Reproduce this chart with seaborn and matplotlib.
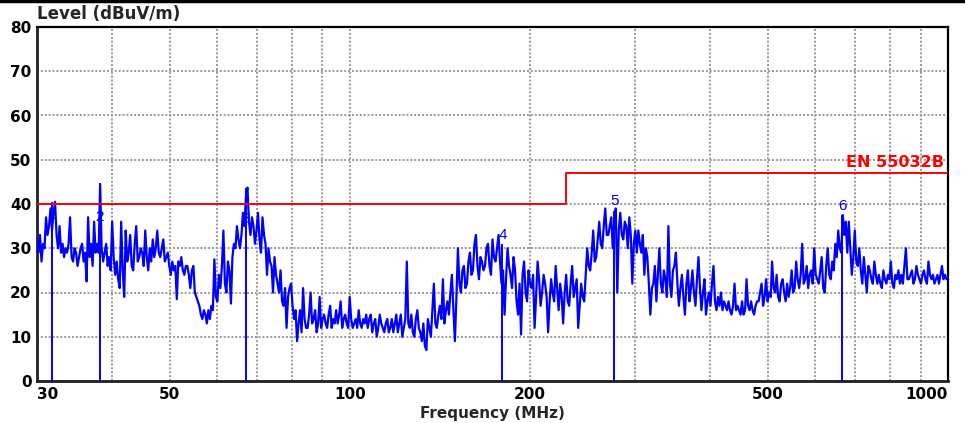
import numpy as np
import pandas as pd
import matplotlib
matplotlib.use("Agg")
import matplotlib.pyplot as plt
import seaborn as sns
from matplotlib.lines import Line2D

# ---------------- data ----------------
trace_levels = [
    32, 29, 33, 27, 31, 30, 37, 33, 35, 39, 34, 38, 40.5, 33, 30, 35, 29, 31, 28, 30,
    29, 31, 37, 28, 27, 30, 29, 26, 28, 30, 31, 27, 29, 22.5, 37, 28, 31, 26, 36, 29,
    31, 29, 44.5, 30, 27, 29, 31, 26, 28, 25, 36, 28, 24, 27, 23, 21, 36, 25, 19, 34,
    27, 29, 33, 26, 25, 31, 35, 27, 28, 30, 29, 26, 34, 28, 25, 30, 27, 32, 28, 30,
    34, 29, 28, 30, 32, 27, 28, 29, 26, 24, 27, 25, 26, 18.5, 27, 26, 28, 25, 24, 26,
    26, 24, 21, 25, 26, 20, 19, 18, 17, 15, 14, 16, 15, 13, 16, 14, 17, 16, 27.5, 19,
    18, 24, 21, 26, 34, 22, 20, 27, 25, 17.5, 28, 31, 30, 35, 32, 30, 33, 38, 35, 42,
    43.7, 36, 33, 37, 35, 31, 34, 38, 32, 29, 37, 33, 31, 24, 30, 27, 26, 20, 28, 24,
    22, 20, 25, 18, 17, 21, 12, 19, 21, 22, 17, 14, 16, 9, 13, 16, 11, 21, 14, 12,
    12, 15, 20, 13, 14, 16, 11, 13, 19, 12, 14, 15, 13, 12, 15, 17, 12, 14, 13, 16,
    13, 15, 18, 12, 14, 15, 13, 12, 19, 14, 12, 13, 14, 12, 16, 13, 12, 14, 13, 15,
    12, 14, 15, 11, 13, 14, 10, 12, 15, 13, 12, 11, 13, 14, 11, 12, 14, 11, 13, 15,
    11, 13, 15, 10, 12, 14, 27, 13, 12, 15, 11, 10, 14, 16, 12, 11, 9, 13, 8, 7,
    14, 12, 10, 16, 22, 13, 12, 15, 17, 14, 23, 13, 16, 18, 15, 20, 24, 16, 9, 19,
    30, 22, 20, 25, 26, 21, 22, 27, 29, 24, 25, 31, 33, 26, 23, 28, 27, 25, 26, 30,
    31, 26, 24, 32, 28, 27, 30, 33, 27, 22, 25, 15, 23, 30, 26, 24, 21, 28, 25, 18,
    15, 22, 10.5, 24, 27, 20, 18, 25, 22, 21, 24, 12, 19, 27, 23, 17, 20, 24, 22, 19,
    11, 18, 23, 20, 18, 26, 21, 16, 22, 19, 13, 20, 24, 18, 17, 22, 26, 19, 21, 23,
    12, 17, 22, 19, 18, 24, 30, 26, 25, 29, 34, 27, 28, 32, 36, 31, 30, 35, 39, 33,
    33, 35, 37, 30, 36, 39, 20, 34, 38, 33, 32, 36, 35, 30, 37, 33, 22, 31, 34, 29,
    34, 31, 29, 33, 24, 30, 28, 22, 15, 21, 22, 26, 18, 24, 30, 22, 20, 25, 23, 19,
    35, 22, 19, 25, 26, 29, 22, 17, 21, 24, 19, 15, 22, 25, 18, 21, 25, 20, 17, 23,
    28, 21, 16, 20, 23, 15, 18, 20, 17, 22, 26, 18, 16, 19, 17, 20, 16, 18, 17, 16,
    18, 16, 15, 17, 22, 16, 17, 16, 15, 18, 15, 16, 23, 17, 16, 18, 16, 15, 17, 18,
    18, 20, 22, 17, 19, 23, 18, 20, 19, 27, 21, 20, 24, 19, 18, 22, 23, 20, 18, 22,
    19, 21, 25, 20, 21, 27, 23, 21, 24, 31, 22, 23, 26, 21, 24, 25, 22, 30, 24, 23,
    22, 25, 28, 21, 20, 26, 30, 24, 23, 27, 25, 31, 28, 34, 30, 29, 37.5, 33, 36, 29,
    36, 30, 24, 28, 34, 27, 26, 30, 25, 22, 28, 24, 20, 26, 25, 23, 22, 27, 24, 22,
    24, 22, 21, 25, 23, 22, 24, 23, 27, 22, 21, 24, 23, 25, 22, 24, 22, 26, 30, 23,
    23, 24, 25, 22, 23, 26, 24, 23, 22, 24, 25, 23, 22, 27, 24, 23, 24, 22, 23, 24,
    22, 24, 26, 23, 24, 23, 23.5,
]
# sweep: logarithmic frequency steps from 30 MHz to 1 GHz
trace_freq = np.geomspace(30, 1000, len(trace_levels))

limit_freq = [30, 230, 230, 1000]
limit_level = [40, 40, 47, 47]
limit_name = "EN 55032B"

marker_ids = ["1", "2", "3", "4", "5", "6"]
marker_freq = [31.8, 38.2, 67.0, 180.0, 277.0, 665.0]
marker_level = [40.5, 44.7, 43.7, 31.0, 38.5, 37.5]
marker_label_level = [36.0, 35.5, 35.0, 31.5, 39.2, 38.0]

x_ticks = [30, 40, 50, 60, 70, 80, 90, 100, 200, 300, 400, 500, 600, 700, 800, 900, 1000]
x_tick_labels = ["30", "", "50", "", "", "", "", "100", "200", "", "", "500", "", "", "", "", "1000"]
y_ticks = [0, 10, 20, 30, 40, 50, 60, 70, 80]

# ---------------- plotting ----------------
sns.set_style("white")
plt.rcParams["font.family"] = ["DejaVu Sans"]
BOLD = dict(fontsize=11, fontweight="bold", family=["DejaVu Sans"])

fig = plt.figure(figsize=(9.65, 4.23), dpi=100)
ax = fig.add_axes([37 / 965, 1 - 381 / 423, (948 - 37) / 965, (381 - 27) / 423])

df = pd.DataFrame({"freq": trace_freq, "level": trace_levels})
sns.lineplot(data=df, x="freq", y="level", ax=ax, color="#0000ff",
             linewidth=1.6, estimator=None, sort=False, zorder=3)

# marker drop lines and labels
ax.vlines(marker_freq, 0, marker_level, color="#0000ff", linewidth=1.4, zorder=3)
for mid, mf, ml in zip(marker_ids, marker_freq, marker_label_level):
    ax.text(mf, ml, mid, color="#0000ff", fontsize=11, ha="center", va="bottom",
            family=["Liberation Sans", "DejaVu Sans"], zorder=4)

# limit line
sns.lineplot(x=limit_freq, y=limit_level, ax=ax, color="#ff0000", linewidth=1.4,
             estimator=None, sort=False, zorder=4)
ax.text(985, 47.6, limit_name, color="#ff0000", ha="right", va="bottom",
        fontsize=11.5, fontweight="bold", family=["DejaVu Sans"])

ax.set_xscale("log")
ax.set_xlim(30, 1000)
ax.set_ylim(0, 80)
ax.set_xticks(x_ticks)
ax.set_xticklabels(x_tick_labels)
ax.xaxis.set_minor_locator(matplotlib.ticker.NullLocator())
ax.set_yticks(y_ticks)
ax.set_yticklabels([str(v) for v in y_ticks])
for lbl in ax.get_xticklabels() + ax.get_yticklabels():
    lbl.set_fontweight("bold")
    lbl.set_fontsize(11)
xl = ax.get_xticklabels()
xl[0].set_horizontalalignment("left")
xl[-1].set_horizontalalignment("right")

ax.tick_params(axis="both", length=0, pad=4, colors="black")
ax.grid(True, color="#999999", linestyle=(0, (1, 1)), linewidth=1.4, zorder=0)
ax.set_axisbelow(True)

for side in ["left", "bottom"]:
    ax.spines[side].set_linewidth(2.0)
    ax.spines[side].set_color("#202020")
for side in ["top", "right"]:
    ax.spines[side].set_linewidth(1.6)
    ax.spines[side].set_color("black")

ax.set_xlabel("Frequency (MHz)", labelpad=3, **BOLD)
ax.set_ylabel("")
fig.text(37 / 965, 1 - 14 / 423, "Level (dBuV/m)", ha="left", va="center",
         fontsize=12, fontweight="bold", family=["DejaVu Sans"])

fig.add_artist(Line2D([0, 1], [1 - 1 / 423, 1 - 1 / 423], transform=fig.transFigure,
                      color="black", linewidth=2.5))

fig.savefig("out.png", dpi=100, facecolor="white")
